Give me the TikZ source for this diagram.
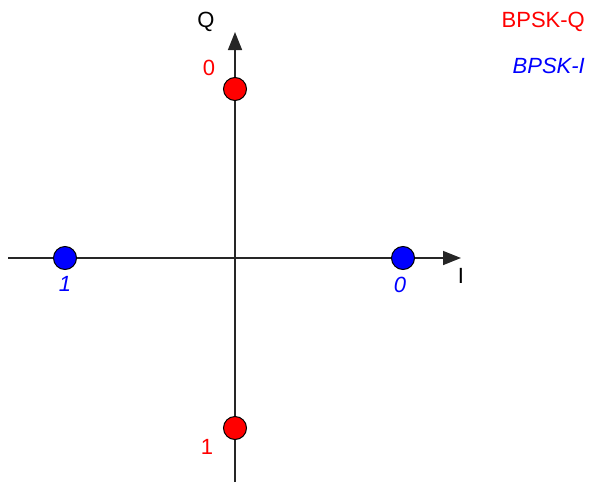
\documentclass[tikz,border=0pt]{standalone}
\usepackage{fontspec}
\setmainfont{Liberation Sans}
\usepackage{xcolor}
\usetikzlibrary{arrows.meta,positioning}
\definecolor{SymRed}{RGB}{255,0,0}
\definecolor{SymBlue}{RGB}{0,0,255}

\begin{document}
\begin{tikzpicture}[
  x=1pt, y=-1pt,
  axis/.style={line width=1.5pt, black!85, -{Triangle[length=18pt, width=14pt]}},
  sym/.style={circle, draw=black, line width=1pt, minimum size=23pt, inner sep=0pt},
  lbl/.style={font=\fontsize{22}{26}\selectfont, inner sep=0pt},
  ilbl/.style={font=\fontsize{22}{26}\selectfont\itshape, inner sep=0pt}
]
\useasboundingbox (0,0) rectangle (589,482);
% axes
\coordinate (Ileft) at (8,258);
\coordinate (Iend) at (461,258);
\coordinate (Qbot) at (235,482);
\coordinate (Qend) at (235,32);
\draw[axis] (Ileft) -- (Iend);
\draw[axis] (Qbot) -- (Qend);
\node[lbl] (Ilab) at (461,276) {I};
\node[lbl] (Qlab) at (206,22) {Q};
% constellation points
\node[sym, fill=SymRed] (Q0) at (235,89) {};
\node[sym, fill=SymRed] (Q1) at (235,428) {};
\node[sym, fill=SymBlue] (I1) at (65,258) {};
\node[sym, fill=SymBlue] (I0) at (403,258) {};
\node[lbl, text=SymRed] at (209,68) {0};
\node[lbl, text=SymRed] at (207,447) {1};
\node[ilbl, text=SymBlue] at (65,284) {1};
\node[ilbl, text=SymBlue] at (400,285) {0};
% legend
\node[lbl, text=SymRed, anchor=east] (legQ) at (585,22) {BPSK-Q};
\node[ilbl, text=SymBlue, anchor=east] (legI) at (585,66) {BPSK-I};
\end{tikzpicture}
\end{document}
